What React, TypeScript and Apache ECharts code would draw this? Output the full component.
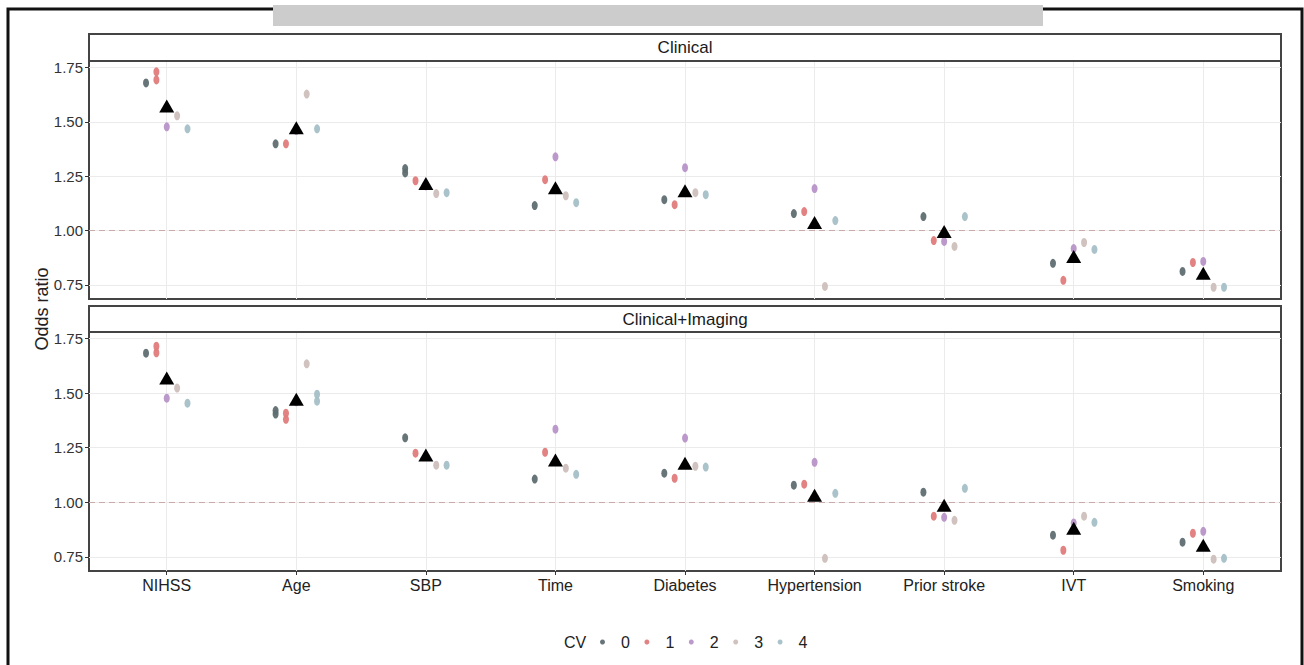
import React, { useEffect, useRef } from "react";
import * as echarts from "echarts";

const categories = ["NIHSS", "Age", "SBP", "Time", "Diabetes", "Hypertension", "Prior stroke", "IVT", "Smoking"];
const cvLabels = ["0", "1", "2", "3", "4"];
const cvColors = ["#5f6e72", "#e07b7b", "#b894c8", "#cdbfba", "#a5c0c7"];
const cvOffsets = [-0.16, -0.08, 0, 0.08, 0.16];
const yTicks = [0.75, 1.0, 1.25, 1.5, 1.75];
const panelTitles = ["Clinical", "Clinical+Imaging"];

// Clinical panel
const clinicalCV0 = [1.679, 1.399, 1.285, 1.115, 1.142, 1.078, 1.064, 0.849, 0.812];
const clinicalCV1 = [1.693, 1.399, 1.229, 1.234, 1.119, 1.087, 0.954, 0.771, 0.853];
const clinicalCV2 = [1.477, 1.46, 1.205, 1.339, 1.289, 1.193, 0.95, 0.917, 0.858];
const clinicalCV3 = [1.528, 1.628, 1.17, 1.16, 1.174, 0.743, 0.927, 0.945, 0.739];
const clinicalCV4 = [1.468, 1.468, 1.174, 1.128, 1.165, 1.046, 1.064, 0.913, 0.739];
const clinicalMean = [1.573, 1.473, 1.216, 1.197, 1.183, 1.037, 0.995, 0.881, 0.803];
// extra replicate points: [category, cv, value]
const clinicalExtra: [string, number, number][] = [
  ["NIHSS", 1, 1.73],
  ["SBP", 0, 1.265],
];

// Clinical+Imaging panel
const imagingCV0 = [1.683, 1.404, 1.295, 1.106, 1.133, 1.078, 1.046, 0.849, 0.817];
const imagingCV1 = [1.685, 1.38, 1.225, 1.229, 1.11, 1.083, 0.936, 0.78, 0.858];
const imagingCV2 = [1.477, 1.46, 1.21, 1.335, 1.294, 1.183, 0.931, 0.905, 0.867];
const imagingCV3 = [1.523, 1.634, 1.17, 1.156, 1.165, 0.743, 0.917, 0.936, 0.739];
const imagingCV4 = [1.454, 1.463, 1.17, 1.128, 1.161, 1.041, 1.064, 0.908, 0.743];
const imagingMean = [1.569, 1.472, 1.216, 1.193, 1.179, 1.032, 0.986, 0.881, 0.803];
const imagingExtra: [string, number, number][] = [
  ["NIHSS", 1, 1.715],
  ["Age", 0, 1.42],
  ["Age", 1, 1.408],
  ["Age", 4, 1.495],
];

const FONT = "'Liberation Sans', Arial, Helvetica, sans-serif";

const GRID_LEFT = 89;
const GRID_RIGHT_EDGE = 1281;
const panels = [
  { top: 61, bottom: 299, stripTop: 34 },
  { top: 332, bottom: 571, stripTop: 306 },
];

function buildSeries(gridIndex: number, cvs: number[][], extras: [string, number, number][], means: number[]) {
  const series: any[] = [];
  cvs.forEach((vals, cv) => {
    const data: number[][] = vals.map((v, i) => [i + 1 + cvOffsets[cv], v]);
    extras
      .filter((e) => e[1] === cv)
      .forEach((e) => data.push([categories.indexOf(e[0]) + 1 + cvOffsets[cv], e[2]]));
    series.push({
      type: "scatter",
      name: cvLabels[cv],
      xAxisIndex: gridIndex,
      yAxisIndex: gridIndex,
      symbol: "circle",
      symbolSize: [6, 9],
      itemStyle: { color: cvColors[cv], opacity: 0.95 },
      z: 3,
      data,
      ...(cv === 0
        ? {
            markLine: {
              silent: true,
              symbol: "none",
              label: { show: false },
              lineStyle: { type: [6, 4], color: "#c9abab", width: 1.2, opacity: 1 },
              data: [{ yAxis: 1 }],
            },
          }
        : {}),
    });
  });
  series.push({
    type: "scatter",
    name: "mean",
    xAxisIndex: gridIndex,
    yAxisIndex: gridIndex,
    symbol: "triangle",
    symbolSize: [15, 13],
    itemStyle: { color: "#000", opacity: 1 },
    z: 5,
    data: means.map((v, i) => [i + 1, v]),
  });
  return series;
}

export default function App() {
  const ref = useRef<HTMLDivElement>(null);
  useEffect(() => {
    if (!ref.current) return;
    const chart = echarts.init(ref.current, undefined, { renderer: "svg" });
    const catValues = categories.map((_, i) => i + 1);

    const grids = panels.map((p) => ({
      left: GRID_LEFT,
      top: p.top,
      width: GRID_RIGHT_EDGE - GRID_LEFT,
      height: p.bottom - p.top,
      show: true,
      borderColor: "#444",
      borderWidth: 2,
      backgroundColor: "#fff",
      containLabel: false,
    }));

    const xAxes = panels.map((_, gi) => ({
      type: "value",
      gridIndex: gi,
      min: 0.4,
      max: 9.6,
      axisLine: { show: false },
      axisTick: {
        show: gi === 1,
        customValues: catValues,
        length: 4,
        lineStyle: { color: "#333" },
      },
      axisLabel: {
        show: gi === 1,
        customValues: catValues,
        margin: 6,
        fontSize: 16,
        fontFamily: FONT,
        color: "#222",
        formatter: (v: number) => categories[Math.round(v) - 1] ?? "",
      },
      splitLine: { show: true, lineStyle: { color: "#ebebeb", width: 1 } },
    }));

    const yAxes = panels.map((_, gi) => ({
      type: "value",
      gridIndex: gi,
      min: 0.685,
      max: 1.78,
      axisLine: { show: false },
      axisTick: { show: true, customValues: yTicks, length: 4, lineStyle: { color: "#333" } },
      axisLabel: {
        customValues: yTicks,
        margin: 6,
        fontSize: 15,
        fontFamily: FONT,
        color: "#333",
        formatter: (v: number) => v.toFixed(2),
      },
      splitLine: { show: true, lineStyle: { color: "#ebebeb", width: 1 } },
    }));

    const clinical = [clinicalCV0, clinicalCV1, clinicalCV2, clinicalCV3, clinicalCV4];
    const imaging = [imagingCV0, imagingCV1, imagingCV2, imagingCV3, imagingCV4];
    const series = [
      ...buildSeries(0, clinical, clinicalExtra, clinicalMean),
      ...buildSeries(1, imaging, imagingExtra, imagingMean),
    ];

    const graphics: any[] = [
      {
        type: "rect",
        shape: { x: 8, y: 9, width: 1294, height: 700 },
        style: { fill: "none", stroke: "#111", lineWidth: 3 },
        z: 1,
      },
      {
        type: "rect",
        shape: { x: 273, y: 5, width: 770, height: 21 },
        style: { fill: "#cccccc" },
        z: 2,
      },
      ...panels.flatMap((p, i) => [
        {
          type: "rect",
          shape: { x: GRID_LEFT, y: p.stripTop, width: GRID_RIGHT_EDGE - GRID_LEFT, height: p.top - p.stripTop },
          style: { fill: "#fff", stroke: "#444", lineWidth: 2 },
          z: 2,
        },
        {
          type: "text",
          x: (GRID_LEFT + GRID_RIGHT_EDGE) / 2,
          y: (p.stripTop + p.top) / 2,
          style: {
            text: panelTitles[i],
            fontSize: 17,
            fontFamily: FONT,
            fill: "#1a1a1a",
            align: "center",
            verticalAlign: "middle",
          },
          z: 3,
        },
      ]),
      {
        type: "text",
        x: 42,
        y: 309,
        rotation: Math.PI / 2,
        style: {
          text: "Odds ratio",
          fontSize: 18,
          fontFamily: FONT,
          fill: "#222",
          align: "center",
          verticalAlign: "middle",
        },
        z: 3,
      },
      {
        type: "text",
        x: 575,
        y: 642,
        style: {
          text: "CV",
          fontSize: 16,
          fontFamily: FONT,
          fill: "#222",
          align: "center",
          verticalAlign: "middle",
        },
        z: 3,
      },
    ];

    chart.setOption({
      animation: false,
      backgroundColor: "#fff",
      grid: grids,
      xAxis: xAxes,
      yAxis: yAxes,
      legend: {
        data: cvLabels,
        left: 600,
        top: 634,
        padding: 0,
        orient: "horizontal",
        icon: "circle",
        itemWidth: 5,
        itemHeight: 5,
        itemGap: 14.5,
        selectedMode: false,
        textStyle: { fontSize: 16, fontFamily: FONT, color: "#222", padding: [0, 0, 0, 11] },
      },
      graphic: graphics,
      series,
    });
    return () => chart.dispose();
  }, []);
  return <div ref={ref} style={{ position: "fixed", left: 0, top: 0, width: 1304, height: 665 }} />;
}
